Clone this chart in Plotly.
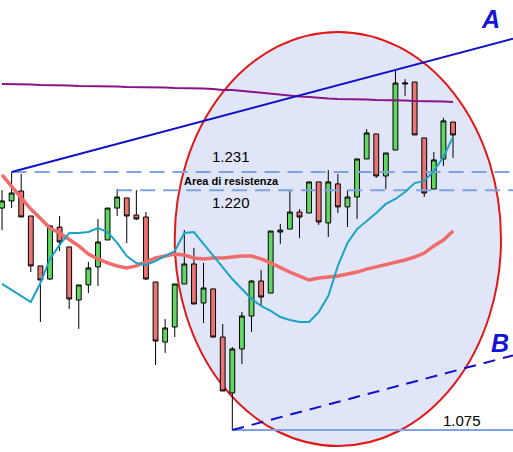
import plotly.graph_objects as go

# ---- data (prices) ----
idx = list(range(48))
open_ = [1.2092,1.2135,1.2195,1.2044,1.1742,1.1663,1.1977,1.1857,1.1536,1.1627,1.1736,1.1899,1.2092,1.2153,1.2050,1.2038,1.1645,1.1282,1.1373,1.1633,1.1754,1.1518,1.1603,1.1312,1.0974,1.1240,1.1439,1.1651,1.1578,1.1947,1.1965,1.2068,1.2062,1.2250,1.2002,1.2238,1.2099,1.2159,1.2389,1.2540,1.2286,1.2443,1.2842,1.2854,1.2516,1.2207,1.2389,1.2612]
high = [1.2201,1.2310,1.2298,1.2044,1.1742,1.1990,1.2044,1.1857,1.1627,1.1766,1.2026,1.2092,1.2207,1.2153,1.2201,1.2068,1.1645,1.1421,1.1633,1.1959,1.1851,1.1760,1.1603,1.1391,1.1252,1.1464,1.1657,1.1718,1.1953,1.1996,1.2195,1.2086,1.2250,1.2250,1.2322,1.2298,1.2201,1.2389,1.2570,1.2540,1.2425,1.2927,1.2872,1.2854,1.2516,1.2431,1.2637,1.2612]
low = [1.1959,1.2092,1.2038,1.1705,1.1403,1.1657,1.1832,1.1482,1.1361,1.1578,1.1621,1.1899,1.2044,1.1881,1.2020,1.1657,1.1143,1.1216,1.1312,1.1633,1.1512,1.1397,1.1312,1.0986,1.0750,1.1149,1.1343,1.1500,1.1578,1.1875,1.1965,1.1911,1.2062,1.1990,1.1917,1.2062,1.1977,1.2026,1.2389,1.2274,1.2207,1.2443,1.2770,1.2534,1.2159,1.2207,1.2346,1.2395]
close = [1.2135,1.2183,1.2038,1.1742,1.1657,1.1984,1.1887,1.1542,1.1627,1.1730,1.1887,1.2092,1.2159,1.2044,1.2026,1.1663,1.1288,1.1367,1.1633,1.1754,1.1512,1.1609,1.1312,1.0986,1.1240,1.1439,1.1651,1.1554,1.1953,1.1959,1.2068,1.2038,1.2250,1.2008,1.2250,1.2099,1.2159,1.2389,1.2546,1.2286,1.2425,1.2848,1.2848,1.2534,1.2183,1.2383,1.2619,1.2534]

ma_long = [1.2842,1.2842,1.2842,1.2839,1.2836,1.2836,1.2836,1.2833,1.2830,1.2830,1.2830,1.2830,1.2827,1.2824,1.2824,1.2824,1.2824,1.2821,1.2818,1.2818,1.2818,1.2815,1.2812,1.2806,1.2806,1.2800,1.2794,1.2788,1.2782,1.2776,1.2770,1.2767,1.2764,1.2757,1.2754,1.2751,1.2751,1.2751,1.2748,1.2745,1.2745,1.2745,1.2742,1.2739,1.2739,1.2739,1.2736,1.2733]
ma_mid = [1.2292,1.2219,1.2153,1.2086,1.2026,1.1971,1.1941,1.1905,1.1863,1.1814,1.1784,1.1760,1.1742,1.1730,1.1742,1.1766,1.1790,1.1802,1.1814,1.1808,1.1790,1.1784,1.1790,1.1790,1.1796,1.1802,1.1802,1.1784,1.1760,1.1730,1.1705,1.1681,1.1657,1.1669,1.1675,1.1681,1.1693,1.1705,1.1723,1.1736,1.1748,1.1760,1.1778,1.1796,1.1820,1.1863,1.1899,1.1953]
ma_short = [1.1633,1.1596,1.1560,1.1524,1.1639,1.1784,1.1869,1.1941,1.1941,1.1947,1.1971,1.1947,1.1881,1.1802,1.1760,1.1748,1.1772,1.1802,1.1832,1.1941,1.1947,1.1875,1.1802,1.1736,1.1663,1.1603,1.1542,1.1500,1.1470,1.1433,1.1415,1.1403,1.1403,1.1463,1.1560,1.1742,1.1881,1.1965,1.2014,1.2062,1.2117,1.2147,1.2189,1.2243,1.2256,1.2316,1.2401,1.2522]

res_hi, res_hi_start = 1.231, 1
res_lo, res_lo_start = 1.220, 12
support, support_start = 1.075, 24
trend_a_pts = (1, 41)      # candle indices whose highs define line A
trend_b_start = 24         # candle index whose low anchors line B
ellipse_center = (35.0, 1.1905)
ellipse_half = (17.0, 0.1252)

X_RANGE = [-0.21, 53.25]
Y_RANGE = [1.0617, 1.3350]

# ---- figure ----
fig = go.Figure()

fig.add_trace(go.Candlestick(
    x=idx, open=open_, high=high, low=low, close=close,
    increasing=dict(line=dict(color="black", width=1), fillcolor="#62d662"),
    decreasing=dict(line=dict(color="black", width=1), fillcolor="#e87474"),
    whiskerwidth=0, showlegend=False, hoverinfo="skip"))

xr = X_RANGE[1]
# resistance / support lines
fig.add_trace(go.Scatter(x=[res_hi_start, xr], y=[res_hi, res_hi], mode="lines",
                         line=dict(color="#7ea2e2", width=2, dash="15px,8px"), showlegend=False))
fig.add_trace(go.Scatter(x=[res_lo_start, xr], y=[res_lo, res_lo], mode="lines",
                         line=dict(color="#7ea2e2", width=2, dash="15px,8px"), showlegend=False))
fig.add_trace(go.Scatter(x=[support_start, xr], y=[support, support], mode="lines",
                         line=dict(color="#7ea2e2", width=2), showlegend=False))

# moving averages
fig.add_trace(go.Scatter(x=idx, y=ma_long, mode="lines", line=dict(color="#8a1388", width=2), showlegend=False))
fig.add_trace(go.Scatter(x=idx, y=ma_mid, mode="lines", line=dict(color="#f06b6b", width=3.5), showlegend=False))
fig.add_trace(go.Scatter(x=idx, y=ma_short, mode="lines", line=dict(color="#1ba3c6", width=2), showlegend=False))

# trend channel
a0, a1 = trend_a_pts
slope = (high[a1] - high[a0]) / (a1 - a0)
fig.add_trace(go.Scatter(x=[a0, xr], y=[high[a0], high[a0] + slope * (xr - a0)], mode="lines",
                         line=dict(color="#1010c8", width=2), showlegend=False))
b0 = trend_b_start
fig.add_trace(go.Scatter(x=[b0, xr], y=[low[b0], low[b0] + slope * (xr - b0)], mode="lines",
                         line=dict(color="#1010c8", width=2, dash="12px,8px"), showlegend=False))

cx, cy = ellipse_center
hx, hy = ellipse_half
fig.add_shape(type="circle", xref="x", yref="y", x0=cx - hx, x1=cx + hx, y0=cy - hy, y1=cy + hy,
              line=dict(color="#e01818", width=2), fillcolor="#e0e6f8", layer="below")

F = "Liberation Sans, Arial, sans-serif"
def label(x, y, t, size, bold=False, color="black", italic=False):
    txt = t
    if bold:
        txt = "<b>" + txt + "</b>"
    if italic:
        txt = "<i>" + txt + "</i>"
    fig.add_annotation(x=x, y=y, xref="x", yref="y", text=txt, showarrow=False,
                       font=dict(family=F, size=size, color=color), xanchor="center", yanchor="middle")

label(23.9, 1.2402, "1.231", 15)
label(23.9, 1.2256, "Area di resistenza", 11, bold=True)
label(23.9, 1.2123, "1.220", 15)
label(47.9, 1.0809, "1.075", 15)
label(50.95, 1.3235, "A", 25, bold=True, italic=True, color="#1414d8")
label(51.9, 1.1276, "B", 25, bold=True, italic=True, color="#1414d8")

fig.update_layout(
    width=513, height=452, margin=dict(l=0, r=0, t=0, b=0),
    paper_bgcolor="white", plot_bgcolor="white", boxgap=0.28,
    xaxis=dict(range=X_RANGE, visible=False, rangeslider=dict(visible=False), fixedrange=True),
    yaxis=dict(range=Y_RANGE, visible=False, fixedrange=True),
    showlegend=False, hovermode=False,
)

fig.write_html("out.html", config={"displayModeBar": False, "staticPlot": True},
               post_script="document.body.style.margin='0';document.body.style.padding='0';")
